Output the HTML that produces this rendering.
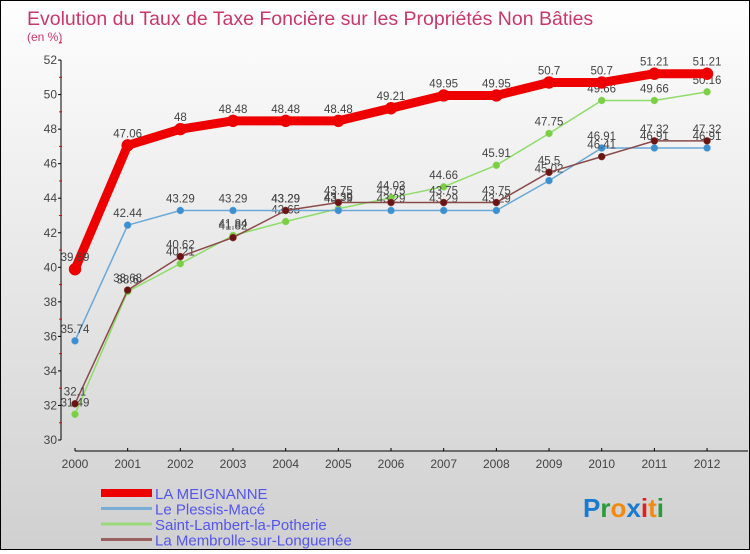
<!DOCTYPE html>
<html><head><meta charset="utf-8"><style>
body{margin:0;width:750px;height:550px;overflow:hidden;font-family:"Liberation Sans",sans-serif}
#wrap{position:relative;width:748px;height:548px;border:1px solid #000;background:linear-gradient(#fefefe,#d0d0d0)}
</style></head><body>
<div id="wrap">
<svg id="chart" width="748" height="548"></svg>
</div>
<script>
const years=["2000","2001","2002","2003","2004","2005","2006","2007","2008","2009","2010","2011","2012"];
const meignanne=[39.89,47.06,48,48.48,48.48,48.48,49.21,49.95,49.95,50.7,50.7,51.21,51.21];
const plessis=[35.74,42.44,43.29,43.29,43.29,43.29,43.29,43.29,43.29,45.02,46.91,46.91,46.91];
const lambert=[31.49,38.6,40.21,41.84,42.65,43.39,44.03,44.66,45.91,47.75,49.66,49.66,50.16];
const membrolle=[32.1,38.68,40.62,41.72,43.29,43.75,43.75,43.75,43.75,45.5,46.41,47.32,47.32];
const membrolleLabels=["32.1","38.68","40.62","41.82","43.29","43.75","43.75","43.75","43.75","45.5","46.41","47.32","47.32"];
const yTicks=[30,32,34,36,38,40,42,44,46,48,50,52];
const seriesNames=["LA MEIGNANNE","Le Plessis-Macé","Saint-Lambert-la-Potherie","La Membrolle-sur-Longuenée"];
const NS="http://www.w3.org/2000/svg";
const svg=document.getElementById('chart');
function X(i){return 74+i*52.67;}
function Y(v){return 439-(v-30)*17.27;}
function mk(tag,attrs,parent){const e=document.createElementNS(NS,tag);for(const k in attrs)e.setAttribute(k,attrs[k]);(parent||svg).appendChild(e);return e;}
function txt(x,y,s,attrs){const t=mk('text',Object.assign({x:x,y:y},attrs));t.textContent=s;return t;}
let t=txt(26,24,"Evolution du Taux de Taxe Foncière sur les Propriétés Non Bâties",{fill:"#c8386a","font-size":"19.5"});

t=txt(26,40,"(en %)",{fill:"#c8386a","font-size":"12"});

let a=mk('line',{x1:60,y1:Y(52),x2:60,y2:Y(30),stroke:"#000"});

a=mk('line',{x1:X(0),y1:450,x2:747,y2:450,stroke:"#000"});

yTicks.forEach(v=>{mk('line',{x1:57,y1:Y(v),x2:60,y2:Y(v),stroke:"#000"});
 mk('line',{x1:58,y1:Y(v+1),x2:61,y2:Y(v+1),stroke:"#e00"});
 const l=txt(56,Y(v)+4,String(v),{fill:"#444","font-size":"12","text-anchor":"end"});
 });
years.forEach((y,i)=>{mk('line',{x1:X(i),y1:447,x2:X(i),y2:450,stroke:"#000"});
 const l=txt(X(i),467,y,{fill:"#444","font-size":"12","text-anchor":"middle"});
 });
function series(data,labels,color,w,r,name,dot){
 const p=mk('polyline',{points:data.map((v,i)=>X(i)+","+Y(v)).join(" "),fill:"none",stroke:color,"stroke-width":w,"stroke-linejoin":"round"});
 
 data.forEach((v,i)=>{const c=mk('circle',{cx:X(i),cy:Y(v),r:r,fill:dot,stroke:color,"stroke-width":0.5});
  
  const l=txt(X(i),Y(v)-8,labels?labels[i]:String(v),{fill:"#444","font-size":"11.5","text-anchor":"middle"});
  });
}
series(lambert,null,"#8fdc6a",1.5,3.5,"saint-lambert","#7ccf45");
series(plessis,null,"#6aa8d8",1.5,3.5,"plessis-mace","#3d8fd0");
series(membrolle,membrolleLabels,"#8a4a4a",1.5,3.5,"membrolle","#6a1414");
series(meignanne,null,"#ee0000",9,6,"la-meignanne","#ee0000");
const lc=["#ee0000","#7aaed6","#9ad87a","#9a6060"],lw=[8,3,3,3];
seriesNames.forEach((n,i)=>{const y=492+i*15.5;
 const l=mk('line',{x1:100,y1:y,x2:151,y2:y,stroke:lc[i],"stroke-width":lw[i]});
 
 const tt=txt(154,y+6,n,{fill:"#5555ee","font-size":"15"});
 });
const logo=mk('text',{x:582,y:516,"font-size":"26","font-weight":"bold"});

[["P","#1a7ad0"],["r","#2a9a3a"],["o","#f08a10"],["x","#1a7ad0"],["i","#e02020"],["t","#f08a10"],["i","#2a9a3a"]].forEach(([c,f])=>{const s=mk('tspan',{fill:f},logo);s.textContent=c;});
</script>
</body></html>
